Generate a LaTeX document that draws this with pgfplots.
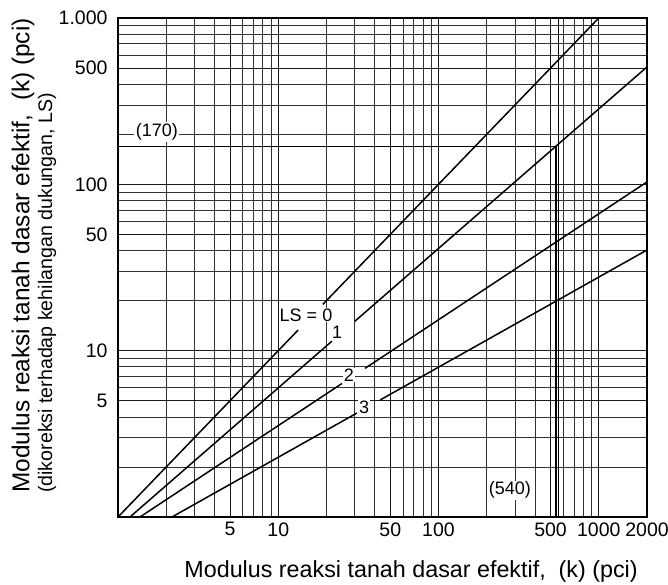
\documentclass[border=0pt]{standalone}
\usepackage{fontspec}
\setmainfont{Liberation Sans}
\usepackage{pgfplots}
\pgfplotsset{compat=1.18}
\begin{document}
\begin{tikzpicture}
\useasboundingbox (0pt,0pt) rectangle (668pt,584pt);
\begin{axis}[
  at={(118pt,67pt)}, anchor=south west,
  scale only axis, width=529pt, height=499pt,
  xmode=log, ymode=log,
  xmin=1, xmax=2000, ymin=1, ymax=1000,
  log basis x=10, log basis y=10,
  xtick={5,10,50,100,500,1000,2000},
  xticklabels={5,10,50,100,500,1000,2000},
  ytick={5,10,50,100,500,1000},
  yticklabels={5,10,50,100,500,1.000},
  minor xtick={2,3,4,5,6,7,8,9,20,30,40,50,60,70,80,90,200,300,400,500,600,700,800,900},
  minor ytick={2,3,4,5,6,7,8,9,20,30,40,50,60,70,80,90,200,300,400,500,600,700,800,900},
  extra x ticks={10,100,1000}, extra x tick labels={},
  grid=both,
  major grid style={black!90, line width=0.9pt},
  minor grid style={black!80, line width=0.7pt},
  tick style={draw=none},
  axis line style={line width=1.4pt},
  /pgf/number format/assume math mode=true,
  ticklabel style={font=\fontsize{19.5}{22}\selectfont},
  xticklabel style={yshift=-2pt},
  yticklabel style={xshift=-7pt},
  clip=false,
  xlabel={Modulus reaksi tanah dasar efektif,\ \ (k) (pci)},
  xlabel style={at={(axis description cs:0.554,-0.11)}, anchor=center, font=\fontsize{23.3}{26}\selectfont},
  ylabel={Modulus reaksi tanah dasar efektif,\ \ (k) (pci)},
  ylabel style={at={(axis description cs:-0.1796,0.524)}, anchor=center, rotate=0, font=\fontsize{24.4}{27}\selectfont},
]
% LS = 0
\addplot[black, line width=1.5pt] coordinates {(1,1) (13.3,13.3)};
\addplot[black, line width=1.5pt] coordinates {(19,19) (1000,1000)};
% LS = 1
\addplot[black, line width=1.5pt] coordinates {(1.188,1) (21.6,11.4)};
\addplot[black, line width=1.5pt] coordinates {(30,15.0) (2000,508)};
% LS = 2
\addplot[black, line width=1.5pt] coordinates {(1.371,1) (25.0,6.35)};
\addplot[black, line width=1.5pt] coordinates {(34.8,7.83) (2000,103.4)};
% LS = 3
\addplot[black, line width=1.5pt] coordinates {(2.17,1) (31.0,4.22)};
\addplot[black, line width=1.5pt] coordinates {(43.2,5.05) (2000,40.3)};
% example 540 -> 170
\addplot[black, line width=0.9pt] coordinates {(1,170) (540,170)};
\addplot[black, line width=1.8pt] coordinates {(540,1) (540,170)};
\addplot[black, line width=0.7pt] coordinates {(560,1) (560,1000)};
% labels
\node[font=\fontsize{18}{20}\selectfont, fill=white, inner sep=1pt] at (axis cs:14.9,16.4) {LS = 0};
\node[font=\fontsize{18}{20}\selectfont, fill=white, inner sep=1pt] at (axis cs:23.3,12.9) {1};
\node[font=\fontsize{18}{20}\selectfont, fill=white, inner sep=1pt] at (axis cs:27.6,7.14) {2};
\node[font=\fontsize{18}{20}\selectfont, fill=white, inner sep=1pt] at (axis cs:34.3,4.59) {3};
\node[font=\fontsize{18}{20}\selectfont, fill=white, inner sep=1.5pt] at (axis cs:1.75,207) {(170)};
\node[font=\fontsize{18}{20}\selectfont, fill=white, inner sep=1pt] at (axis cs:279,1.45) {(540)};
\node[font=\fontsize{19.6}{22}\selectfont, rotate=90, anchor=center] at (axis description cs:-0.134,0.449) {(dikoreksi terhadap kehilangan dukungan, LS)};
\end{axis}
\end{tikzpicture}
\end{document}
